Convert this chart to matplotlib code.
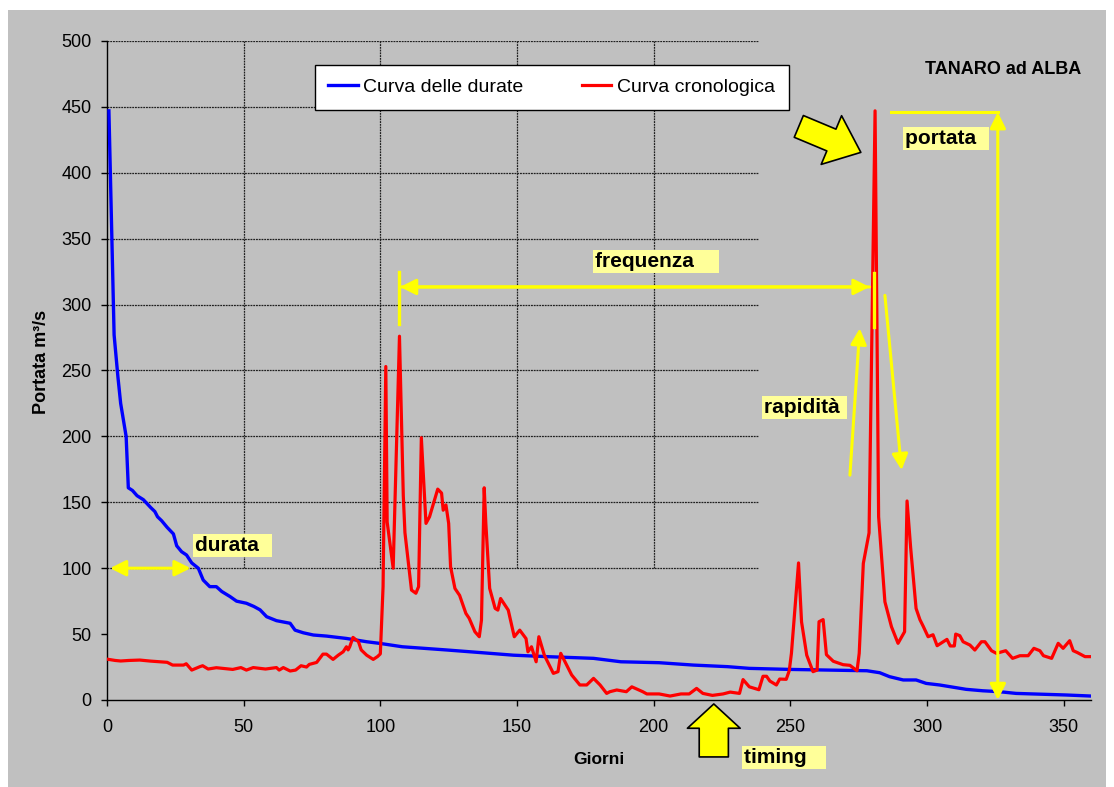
import matplotlib
matplotlib.use("Agg")
import matplotlib.pyplot as plt
from matplotlib.patches import Rectangle, FancyArrowPatch

plt.rcParams['font.family'] = ['Liberation Sans', 'DejaVu Sans']

# curva cronologica (portata giornaliera, m3/s)
red_day = [0, 3, 5, 8, 12, 16, 22, 24, 28, 29, 31, 34, 35, 37, 40, 46, 49, 51, 53.5, 58,
           62, 63, 64.5, 67, 69, 71, 73, 74, 76.7, 79, 80.3, 82.7, 84.6, 86.4, 87.6, 88.2,
           88.8, 90, 92, 93, 95, 97.4, 99, 100, 101, 102, 102.5, 104.7, 107, 108.4, 109,
           111.4, 113, 114, 115, 116.7, 118, 121, 122.4, 123, 124, 125, 125.7, 127.3, 129,
           131.3, 132.5, 134.6, 136.2, 137, 138, 138.6, 140, 142, 143, 144, 146.8, 149, 151,
           153.3, 154, 155.3, 157, 158, 160, 163.3, 165, 166, 170, 173, 175.5, 178, 180.4,
           182.8, 184, 186.5, 190, 192, 196, 197.5, 202, 206, 210, 213, 215.7, 218, 221.5,
           225.4, 228, 231.4, 232.7, 235, 238.5, 240, 241.3, 242.5, 244.9, 246.1, 248.5,
           249.6, 250.4, 253, 254.1, 256, 258.3, 259.8, 260.5, 262, 263.2, 265.7, 269.3,
           271.8, 274.4, 275.2, 276.7, 278.8, 281, 282.3, 284.6, 287, 289.4, 291.8, 292.7,
           294, 296, 297.4, 298.6, 300.4, 302.2, 303.7, 307.3, 308.5, 310, 310.5, 312, 313.2,
           315.7, 317.5, 319.9, 321.2, 323.6, 325.4, 328.8, 331.3, 334, 337, 339.1, 341.3,
           342.6, 345.6, 348, 349.8, 352.2, 353.5, 355, 357.8, 360]
red_flow = [31, 30, 29.6, 30, 30.3, 29.5, 28.6, 26.5, 26.5, 27.5, 22.7, 25.3, 26, 23.5, 24.5,
            23.2, 24.6, 22.7, 24.6, 23.5, 24.6, 22.7, 24.6, 22, 22.7, 26, 25, 27, 28.5, 34.8,
            34.8, 30.8, 34, 36.6, 40.4, 38, 40.4, 47.5, 44.2, 38, 34, 30.8, 33, 35, 86, 253,
            135, 100, 276, 155, 127, 83.4, 81, 86, 199, 134, 139, 160, 157, 144, 148, 134,
            101, 84.6, 79.4, 65.7, 62, 51.8, 48, 60.6, 161, 134, 84.7, 69.5, 68.2, 77, 68.2,
            48, 53, 46.6, 36.6, 40.4, 29, 48, 34, 20.2, 21.5, 35.4, 19, 11.4, 11.4, 16.4,
            11.4, 5, 6.3, 7.6, 6.3, 10, 6.3, 4.6, 4.6, 3, 4.6, 4.6, 8.8, 5, 3.5, 4.6, 6, 5,
            15.5, 10, 7.8, 18, 18, 14.4, 11.4, 15.9, 15.7, 22.2, 35.4, 104, 59.3, 34, 21.5,
            22.7, 59.4, 61, 34.4, 29.4, 26.8, 26.3, 22.2, 35.4, 103.6, 126.8, 447, 139, 74.5,
            55.6, 43, 51.8, 151, 116, 69.5, 61, 56, 48, 49.5, 41.2, 46, 41, 41, 50, 48.8,
            44.2, 41.7, 37.9, 44.2, 44.2, 37.4, 35.4, 37.4, 31.6, 33.6, 33.6, 39.2, 37.4,
            33.6, 31.6, 43, 39.2, 45, 37.4, 36, 32.9, 32.9]

# curva delle durate
blue_day = [0.7, 2.6, 4, 5, 7, 7.8, 9.3, 11, 13.3, 16, 17.5, 18.5, 20, 22, 24.3, 25.5, 27.3,
            29.1, 31, 33.4, 35.2, 37.6, 40, 42, 45, 47.4, 51, 53.7, 56, 58.4, 62, 67, 68.8,
            71.8, 75.5, 80.3, 87.6, 95, 100, 108, 124, 136.5, 148.7, 161, 178, 188, 202,
            214.5, 227, 235, 250, 278, 282.7, 286.3, 291.3, 296, 299.7, 304.6, 314.3, 320.4,
            326.5, 332.6, 350.9, 360]
blue_flow = [447, 277, 245, 225, 200, 161, 159, 155, 152, 146, 143, 139, 136, 131, 126, 117,
             112.5, 110, 104, 100, 91, 86, 86, 82.3, 78.5, 75, 73.4, 71, 68.4, 63.2, 60.2,
             58.2, 53, 51, 49.3, 48.5, 46.7, 44.2, 42.9, 40.4, 38, 36, 34, 32.9, 31.6, 29,
             28.3, 26.5, 25.3, 24, 23.2, 22.2, 20.7, 17.7, 15.2, 15.2, 12.6, 11.4, 8.1, 7,
             6.3, 5, 3.8, 3]

x_ticks = [0, 50, 100, 150, 200, 250, 300, 350]
y_ticks = [0, 50, 100, 150, 200, 250, 300, 350, 400, 450, 500]

GRAY = '#C0C0C0'
YEL = '#FFFF00'
BOXYEL = '#FFFF99'

fig = plt.figure(figsize=(11.14, 7.87), dpi=100, facecolor='white')
fig.patches.append(Rectangle((8 / 1114, 0), (1106 - 8) / 1114, (787 - 10) / 787,
                             transform=fig.transFigure, fc=GRAY, ec='none', zorder=-10))
ax = fig.add_axes([107 / 1114, 1 - 700 / 787, 984 / 1114, 659 / 787])
ax.set_facecolor('none')

# griglia solo nella parte in alto a sinistra
for yv in y_ticks[2:]:
    ax.plot([0, 238], [yv, yv], color='#202020', lw=0.9, ls=(0, (1.5, 0.7)), zorder=1)
for xv in x_ticks[1:5]:
    ax.plot([xv, xv], [100, 500], color='#202020', lw=0.9, ls=(0, (1.5, 0.7)), zorder=1)

ax.plot(blue_day, blue_flow, color='#0000FF', lw=2.4, label='Curva delle durate', zorder=3)
ax.plot(red_day, red_flow, color='#FF0000', lw=2.3, label='Curva cronologica', zorder=3)

ax.set_xlim(0, 360)
ax.set_ylim(0, 500)
ax.set_xticks(x_ticks)
ax.set_yticks(y_ticks)
ax.tick_params(direction='out', length=4, width=1, labelsize=13, colors='black')
ax.tick_params(axis='y', pad=7)
ax.tick_params(axis='x', pad=10)
ax.spines['top'].set_visible(False)
ax.spines['right'].set_visible(False)
for s in ['left', 'bottom']:
    ax.spines[s].set_color('black')
    ax.spines[s].set_linewidth(1)

ax.set_xlabel('Giorni', fontsize=12.5, fontweight='bold')
ax.set_ylabel('Portata m³/s', fontsize=13, fontweight='bold')
ax.xaxis.set_label_coords(0.5, -0.079)
ax.yaxis.set_label_coords(-0.058, 0.513)

leg = ax.legend(ncol=2, loc='center', bbox_to_anchor=(0.452, 0.930), frameon=True,
                fancybox=False, edgecolor='black', facecolor='white', framealpha=1,
                fontsize=14, handlelength=1.5, handletextpad=0.3, columnspacing=3,
                borderpad=0.7)
leg.get_frame().set_linewidth(1)

ax.text(0.911, 0.956, 'TANARO ad ALBA', transform=ax.transAxes, ha='center', va='center',
        fontsize=13, fontweight='bold')


def yarrow(p0, p1, style='-|>'):
    ax.annotate('', xy=p1, xytext=p0, annotation_clip=False,
                arrowprops=dict(arrowstyle=style, color=YEL, lw=2.2, mutation_scale=24,
                                shrinkA=0, shrinkB=0), zorder=5)


def ybox(x, y, s):
    ax.text(x, y, s, ha='left', va='center', fontsize=15, fontweight='bold', zorder=6,
            clip_on=False, bbox=dict(fc=BOXYEL, ec='none', pad=1.5))


# durata
yarrow((1.1, 100), (30.6, 100), '<|-|>')
ybox(32.2, 117.5, 'durata  ')
# frequenza
yarrow((279, 313.4), (107.2, 313.4))
yarrow((107.2, 313.4), (279, 313.4))
ax.plot([107, 107], [285, 325], color=YEL, lw=2.4, zorder=5)
ax.plot([280.5, 280.5], [283, 324], color=YEL, lw=2.4, zorder=5)
ybox(178.5, 332.8, 'frequenza    ')
# rapidita
yarrow((271.8, 170.6), (275.4, 282))
yarrow((284.6, 307), (290.7, 174.4))
ybox(240.3, 222, 'rapidità ')
# portata
ax.plot([286.8, 325.9], [446, 446], color=YEL, lw=2.2, zorder=5)
yarrow((325.9, 0), (325.9, 446), '<|-|>')
ybox(291.8, 425.9, 'portata  ')
# timing
ybox(232.9, -43.5, 'timing   ')

# frecce gialle a blocco
peak_arrow = FancyArrowPatch((253.1, 435.2), (275.8, 415.5),
                             arrowstyle='simple,head_length=2.3,head_width=3.8,tail_width=1.7',
                             mutation_scale=10, fc=YEL, ec='black', lw=1.2,
                             shrinkA=0, shrinkB=0, zorder=6)
ax.add_patch(peak_arrow)
timing_arrow = FancyArrowPatch((222, -43.2), (222, -3),
                               arrowstyle='simple,head_length=1.75,head_width=3.8,tail_width=2.1',
                               mutation_scale=10, fc=YEL, ec='black', lw=1.2,
                               shrinkA=0, shrinkB=0, zorder=6, clip_on=False)
ax.add_patch(timing_arrow)

fig.savefig('out.png', dpi=100)
